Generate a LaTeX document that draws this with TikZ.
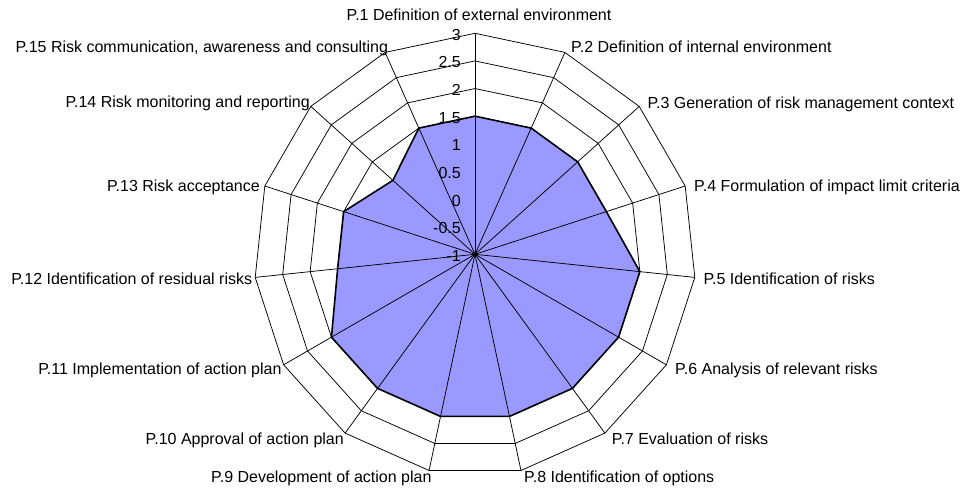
\documentclass[tikz,border=0pt]{standalone}
\usepackage{fontspec}
\setmainfont{Liberation Sans}
\definecolor{seriesblue}{RGB}{153,153,255}
\begin{document}
\begin{tikzpicture}[x=1pt,y=-1pt,
  font=\fontsize{16}{19}\selectfont,
  grid/.style={draw=black, line width=0.75pt},
  series/.style={draw=black, line width=1.6pt, line join=round},
  lab/.style={inner sep=0pt},
  ticklab/.style={inner sep=0pt, anchor=base east}]
\useasboundingbox (0,0) rectangle (963,489);
\def\cx{475}\def\cy{254.3}\def\R{221}
\coordinate (c) at (\cx,\cy);
% outer ends of the 15 spokes
\foreach \i in {0,...,14}
  \coordinate (o\i) at ({\cx+\R*sin(24*\i)},{\cy-\R*cos(24*\i)});
% concentric rings, one per 0.5 step from -1 to 3
\foreach \k in {1,...,8} {
  \pgfmathsetmacro\r{\k*\R/8}
  \draw[grid] ({\cx},{\cy-\r})
    \foreach \i in {1,...,14} { -- ({\cx+\r*sin(24*\i)},{\cy-\r*cos(24*\i)}) } -- cycle;
}
% data points
\foreach \v [count=\i from 0] in {1.5,1.5,1.5,1.5,2,2,2,2,2,2,2,1.5,1.5,1,1.5} {
  \pgfmathsetmacro\r{(\v+1)/4*\R}
  \coordinate (d\i) at ({\cx+\r*sin(24*\i)},{\cy-\r*cos(24*\i)});
}
\fill[seriesblue] (d0) -- (d1) -- (d2) -- (d3) -- (d4) -- (d5) -- (d6) -- (d7)
  -- (d8) -- (d9) -- (d10) -- (d11) -- (d12) -- (d13) -- (d14) -- cycle;
% spokes
\foreach \i in {0,...,14}
  \draw[grid] (c) -- (o\i);
\draw[series] (d0) -- (d1) -- (d2) -- (d3) -- (d4) -- (d5) -- (d6) -- (d7)
  -- (d8) -- (d9) -- (d10) -- (d11) -- (d12) -- (d13) -- (d14) -- cycle;
\fill (c) circle (2.3);
% value axis labels
\foreach \t [count=\k from 0] in {-1,-0.5,0,0.5,1,1.5,2,2.5,3}
  \node[ticklab] (t\k) at (461,{\cy-\k*\R/8+7}) {\t};
% category labels
\node[lab, anchor=base] (p1) at (479,21) {P.1 Definition of external environment};
\node[lab, anchor=base west] (p2) at (571,52.5) {P.2 Definition of internal environment};
\node[lab, anchor=base west] (p3) at (647.3,108.5) {P.3 Generation of risk management context};
\node[lab, anchor=base west] (p4) at (694,191) {P.4 Formulation of impact limit criteria};
\node[lab, anchor=base west] (p5) at (703.3,284) {P.5 Identification of risks};
\node[lab, anchor=base west] (p6) at (675,374) {P.6 Analysis of relevant risks};
\node[lab, anchor=base west] (p7) at (611.7,444) {P.7 Evaluation of risks};
\node[lab, anchor=base west] (p8) at (524,482.5) {P.8 Identification of options};
\node[lab, anchor=base east] (p9) at (431.7,482.5) {P.9 Development of action plan};
\node[lab, anchor=base east] (p10) at (344,444) {P.10 Approval of action plan};
\node[lab, anchor=base east] (p11) at (281.7,374) {P.11 Implementation of action plan};
\node[lab, anchor=base east] (p12) at (252.3,284) {P.12 Identification of residual risks};
\node[lab, anchor=base east] (p13) at (260,191) {P.13 Risk acceptance};
\node[lab, anchor=base east] (p14) at (310,107.5) {P.14 Risk monitoring and reporting};
\node[lab, anchor=base east] (p15) at (388.3,52.5) {P.15 Risk communication, awareness and consulting};
\end{tikzpicture}
\end{document}
